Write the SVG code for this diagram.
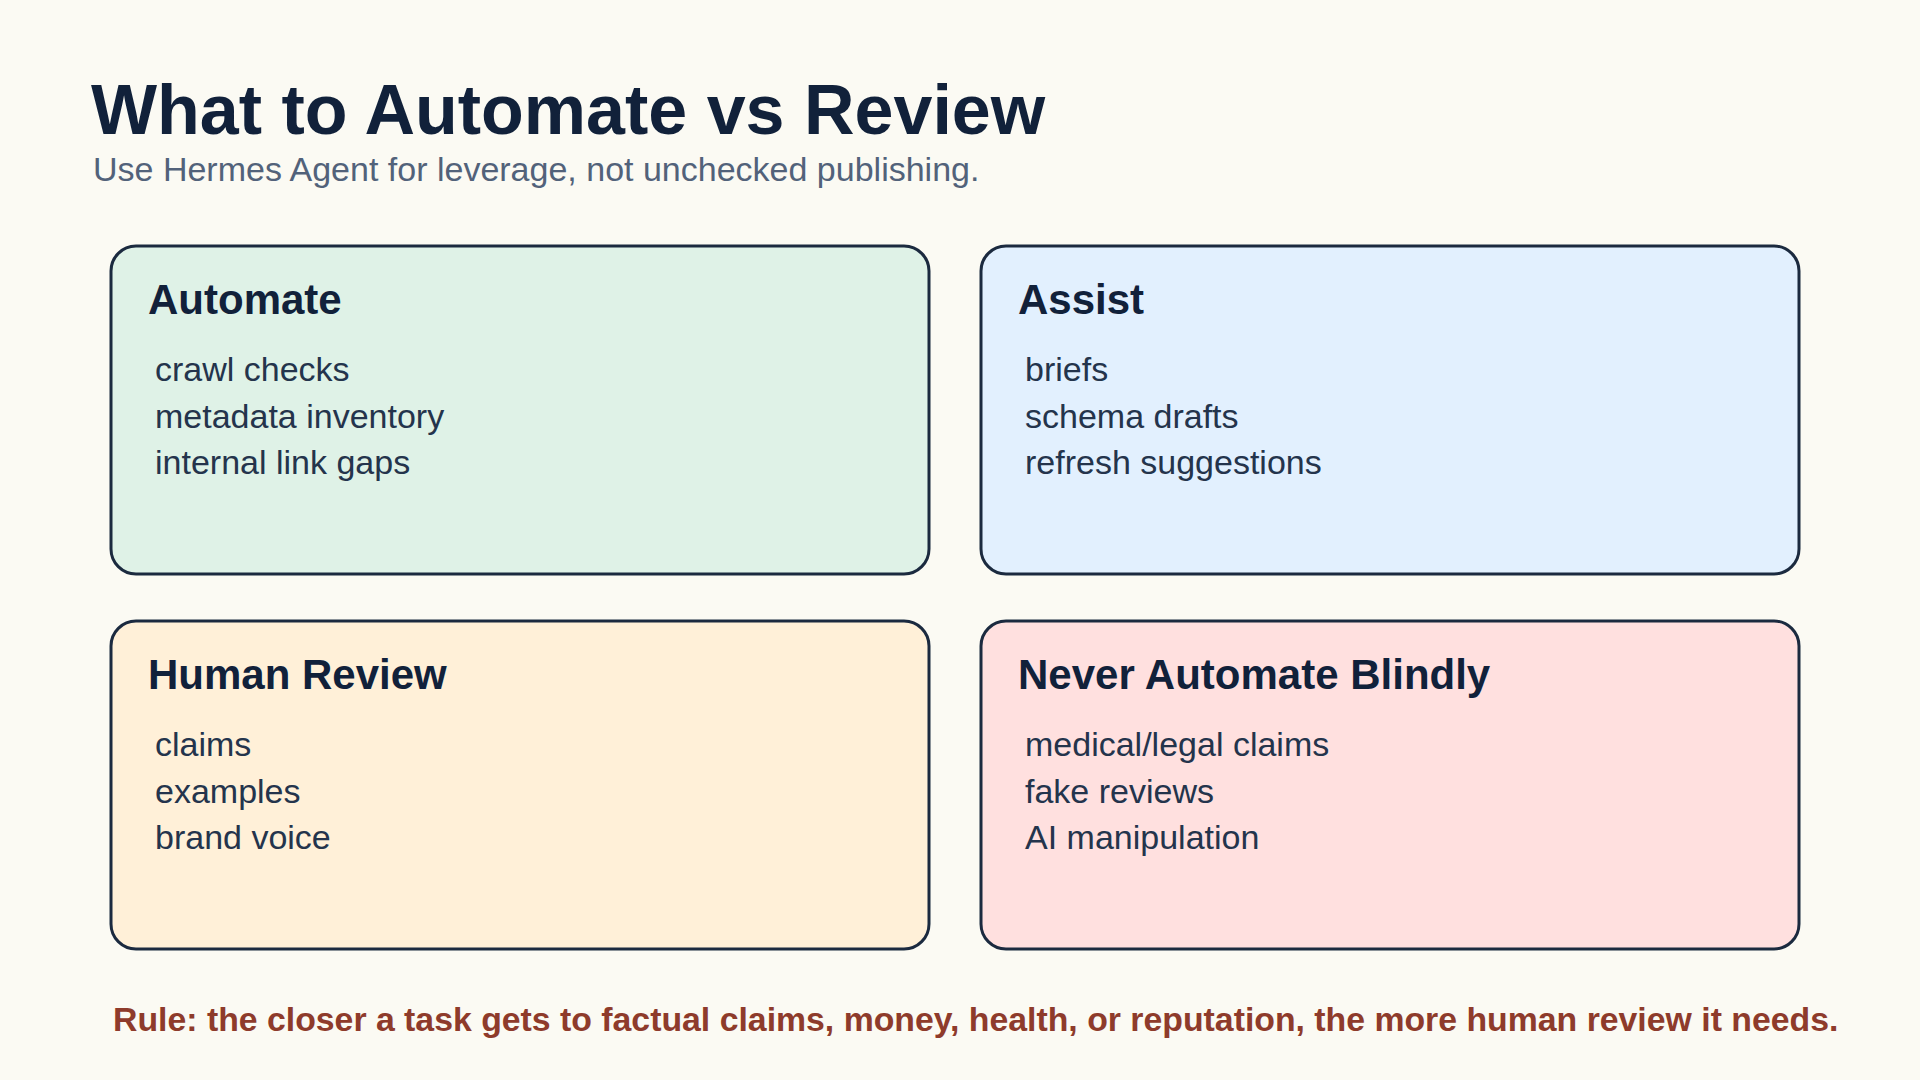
<svg xmlns="http://www.w3.org/2000/svg" width="1920" height="1080" viewBox="0 0 1920 1080">
<style>
.title{font-family:"Liberation Sans",Arial,sans-serif;font-weight:700;font-size:70px;fill:#11213A}
.sub{font-family:"Liberation Sans",Arial,sans-serif;font-size:34px;fill:#52627A}
.card{stroke:#1B2A3F;stroke-width:3}
.head{font-family:"Liberation Sans",Arial,sans-serif;font-weight:700;font-size:42px;fill:#11213A}
.item{font-family:"Liberation Sans",Arial,sans-serif;font-size:34px;fill:#24344C}
.rule{font-family:"Liberation Sans",Arial,sans-serif;font-weight:700;font-size:33.8px;fill:#8E3B2B}
</style>
<rect width="1920" height="1080" fill="#FBFAF3"/>
<text class="title" x="91" y="134">What to Automate vs Review</text>
<text class="sub" x="93" y="181">Use Hermes Agent for leverage, not unchecked publishing.</text>
<g id="automate">
<rect class="card" x="111" y="246" width="818" height="328" rx="25" fill="#DFF2E7"/>
<text class="head" x="148" y="314">Automate</text>
<text class="item" x="155" y="381">crawl checks</text>
<text class="item" x="155" y="427.5">metadata inventory</text>
<text class="item" x="155" y="474">internal link gaps</text>
</g>
<g id="assist">
<rect class="card" x="981" y="246" width="818" height="328" rx="25" fill="#E2F0FE"/>
<text class="head" x="1018" y="314">Assist</text>
<text class="item" x="1025" y="381">briefs</text>
<text class="item" x="1025" y="427.5">schema drafts</text>
<text class="item" x="1025" y="474">refresh suggestions</text>
</g>
<g id="human-review">
<rect class="card" x="111" y="621" width="818" height="328" rx="25" fill="#FFF0D8"/>
<text class="head" x="148" y="689">Human Review</text>
<text class="item" x="155" y="756">claims</text>
<text class="item" x="155" y="802.5">examples</text>
<text class="item" x="155" y="849">brand voice</text>
</g>
<g id="never-automate">
<rect class="card" x="981" y="621" width="818" height="328" rx="25" fill="#FFE0DF"/>
<text class="head" x="1018" y="689">Never Automate Blindly</text>
<text class="item" x="1025" y="756">medical/legal claims</text>
<text class="item" x="1025" y="802.5">fake reviews</text>
<text class="item" x="1025" y="849">AI manipulation</text>
</g>
<g id="connectors"></g>
<text class="rule" x="113" y="1031">Rule: the closer a task gets to factual claims, money, health, or reputation, the more human review it needs.</text>
</svg>
